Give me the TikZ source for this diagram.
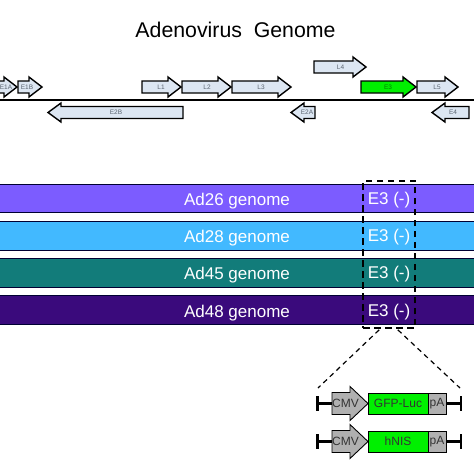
\documentclass[tikz,border=0pt]{standalone}
\usepackage{fontspec}
\setmainfont{Liberation Sans}
\definecolor{gbl}{HTML}{DCE6F2}
\definecolor{gtxt}{HTML}{5A6470}
\definecolor{ggreen}{HTML}{00F000}
\definecolor{ggray}{HTML}{B0B0B0}
\definecolor{cA}{HTML}{7C5CFF}
\definecolor{cB}{HTML}{42B9FF}
\definecolor{cC}{HTML}{127C7A}
\definecolor{cD}{HTML}{3A0A7C}
\tikzset{
 gene/.style={draw=black,line width=1.4pt,fill=gbl,miter limit=4},
 genelabel/.style={inner sep=0pt,font=\fontsize{6.5}{7}\selectfont,text=gtxt},
 bar/.style={draw=black!80!blue,line width=0.9pt,minimum width=480pt,minimum height=28.5pt,inner sep=0pt},
 barlabel/.style={text=white,font=\fontsize{17}{18}\selectfont,inner sep=0pt},
 cmvbody/.style={draw=black,line width=0.9pt,fill=ggray},
 partlabel/.style={inner sep=0pt,font=\fontsize{12}{13}\selectfont,text=black!80},
 part/.style={draw=black,line width=0.9pt,minimum height=21pt,inner sep=0pt,font=\fontsize{12}{13}\selectfont,text=black!80},
 stem/.style={line width=2.4pt,draw=black},
 dsh/.style={line width=1.2pt,dash pattern=on 5pt off 4pt},
 dsb/.style={line width=1.7pt,dash pattern=on 6.5pt off 4.5pt}
}
% right-pointing: name, x0, x1, y, label x, label, fill
\newcommand\rgene[7]{\draw[gene,fill=#7] (#2,#4-6) -- (#3-13,#4-6) -- (#3-13,#4-10) -- (#3,#4) -- (#3-13,#4+10) -- (#3-13,#4+6) -- (#2,#4+6) -- cycle;
 \node[genelabel] (#1) at (#5,#4) {#6};}
% left-pointing: name, tip x, tail x, y, label x, label
\newcommand\lgene[6]{\draw[gene] (#3,#4-6) -- (#2+13,#4-6) -- (#2+13,#4-9.5) -- (#2,#4) -- (#2+13,#4+9.5) -- (#2+13,#4+6) -- (#3,#4+6) -- cycle;
 \node[genelabel] (#1) at (#5,#4) {#6};}
\newcommand\cmvarrow[2]{\draw[cmvbody] (332,#2-11) -- (350,#2-11) -- (350,#2-17) -- (368,#2) -- (350,#2+17) -- (350,#2+11) -- (332,#2+11) -- cycle;
 \node[partlabel] (#1) at (345.5,#2) {CMV};}
\begin{document}
\begin{tikzpicture}[x=1pt,y=-1pt]
\useasboundingbox (0,0) rectangle (474,474);
\node[inner sep=0pt,font=\fontsize{21.3}{22}\selectfont] (title) at (235.5,29.5) {Adenovirus\ \ Genome};
\coordinate (gl) at (-2,100); \coordinate (gr) at (476,100);
\draw[line width=2.6pt] (gl) -- (gr);
\rgene{e1a}{-12}{17}{87}{6}{E1A}{gbl}
\rgene{e1b}{18}{42}{87}{27}{E1B}{gbl}
\rgene{l1}{142}{181}{87}{161}{L1}{gbl}
\rgene{l2}{182}{231}{87}{207}{L2}{gbl}
\rgene{l3}{232}{291}{87}{261}{L3}{gbl}
\rgene{l4}{314}{366}{67}{340.5}{L4}{gbl}
\rgene{e3}{361}{416}{87}{388}{\textcolor{green!50!black}{E3}}{ggreen}
\rgene{l5}{417}{458}{87}{437}{L5}{gbl}
\lgene{e2b}{48}{183}{112.5}{116}{E2B}
\lgene{e2a}{291}{315}{112.5}{307}{E2A}
\lgene{e4}{432}{469}{112.5}{453}{E4}
\node[bar,fill=cA] (b1) at (237,198.5) {};
\node[bar,fill=cB] (b2) at (237,236) {};
\node[bar,fill=cC] (b3) at (237,273) {};
\node[bar,fill=cD] (b4) at (237,310) {};
\node[barlabel] (t1) at (237,201) {Ad26 genome};
\node[barlabel] (t2) at (237,238) {Ad28 genome};
\node[barlabel] (t3) at (237,275.5) {Ad45 genome};
\node[barlabel] (t4) at (237,313) {Ad48 genome};
\node[barlabel] (x1) at (389,200.5) {E3 (-)};
\node[barlabel] (x2) at (389,237.5) {E3 (-)};
\node[barlabel] (x3) at (389,274.5) {E3 (-)};
\node[barlabel] (x4) at (389,312.5) {E3 (-)};
\node[draw=black,dsb,minimum width=52pt,minimum height=147pt,inner sep=0pt] (box) at (389,254.5) {};
\coordinate (zl) at (318,388); \coordinate (zr) at (460,388);
\draw[dsh] (box.south west)++(17,1) -- (zl);
\draw[dsh] (box.south east)++(-18,1) -- (zr);
% construct 1
\coordinate (l1a) at (317.5,396); \coordinate (l1b) at (317.5,411);
\coordinate (l1c) at (317.5,403.5); \coordinate (c1w) at (332,403.5);
\coordinate (r1a) at (461,396); \coordinate (r1b) at (461,411);
\coordinate (r1c) at (461,403.5);
\draw[stem] (l1a) -- (l1b); \draw[stem] (l1c) -- (c1w);
\cmvarrow{c1}{403.5}
\node[part,fill=ggreen,minimum width=60pt] (g1) at (398,403.5) {GFP-Luc};
\node[part,fill=ggray,minimum width=18pt] (p1) at (437,403.5) {pA};
\draw[stem] (p1.east) -- (r1c); \draw[stem] (r1a) -- (r1b);
% construct 2
\coordinate (l2a) at (317.5,434); \coordinate (l2b) at (317.5,449);
\coordinate (l2c) at (317.5,441.5); \coordinate (c2w) at (332,441.5);
\coordinate (r2a) at (461,434); \coordinate (r2b) at (461,449);
\coordinate (r2c) at (461,441.5);
\draw[stem] (l2a) -- (l2b); \draw[stem] (l2c) -- (c2w);
\cmvarrow{c2}{441.5}
\node[part,fill=ggreen,minimum width=60pt] (g2) at (398,441.5) {hNIS};
\node[part,fill=ggray,minimum width=18pt] (p2) at (437,441.5) {pA};
\draw[stem] (p2.east) -- (r2c); \draw[stem] (r2a) -- (r2b);
\end{tikzpicture}
\end{document}
